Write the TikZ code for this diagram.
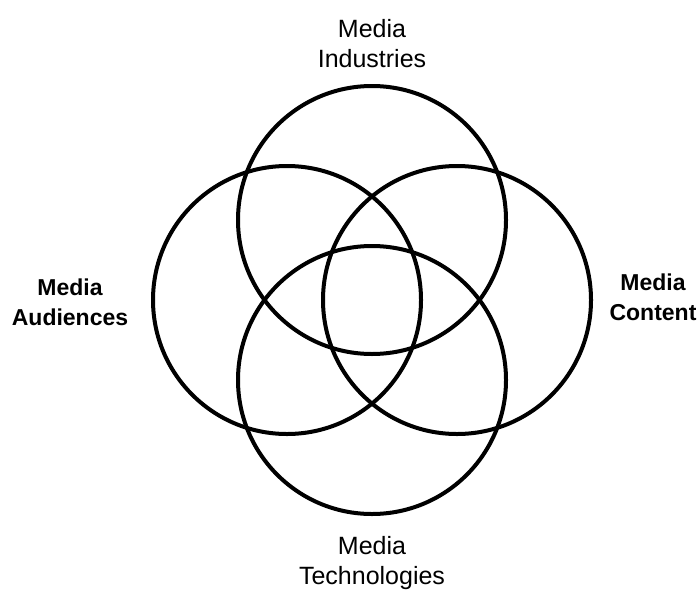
\documentclass[tikz,border=0pt]{standalone}
\usepackage{fontspec}
\setmainfont{Liberation Sans}

\begin{document}
\begin{tikzpicture}[
  x=1pt, y=-1pt,
  ring/.style={draw=black, circle, line width=4pt, minimum size=268pt, inner sep=0pt},
  tag/.style={align=center, inner sep=0pt, font=\fontsize{25}{30}\selectfont},
  boldtag/.style={tag, font=\fontsize{23}{30}\selectfont\bfseries}
]
\useasboundingbox (0,0) rectangle (698,589);

\node[ring] (industries) at (372,220) {};
\node[ring] (audiences) at (287,300) {};
\node[ring] (content) at (457,300) {};
\node[ring] (technologies) at (372,380) {};

\node[tag] (industriesLabel) at (372,44) {Media\\Industries};
\node[boldtag] (audiencesLabel) at (70,302) {Media\\Audiences};
\node[boldtag] (contentLabel) at (653,297) {Media\\Content};
\node[tag] (technologiesLabel) at (372,563) {Media\\Technologies};

\end{tikzpicture}
\end{document}
